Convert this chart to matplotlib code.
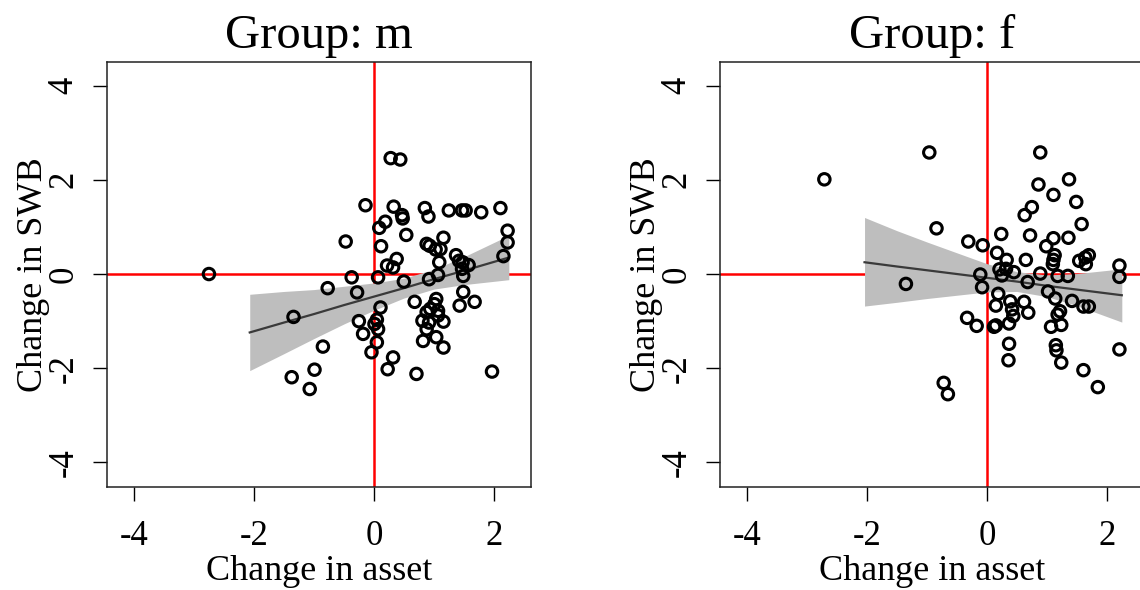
import matplotlib
matplotlib.use("Agg")
import matplotlib.pyplot as plt

plt.rcParams['font.family'] = ['Liberation Serif', 'DejaVu Serif']

# ---------------- data: Group m ----------------
m_x = [-2.75, 0.28, 0.44, -0.14, 0.33, 0.47, 0.48, 0.19, 0.09, 0.85, 0.91, 1.25, 1.47, 1.53,
       1.79, 2.11, 2.23, 2.23, 2.16, 0.54, -0.47, 0.12, 0.88, 0.93, 1.16, 1.03, 1.11, 0.38,
       0.22, 0.32, 1.09, 1.37, 1.42, 1.48, 1.58, 1.47, 1.49, 1.07, 0.92, -0.37, 0.07, 0.50,
       -0.77, -0.28, -1.34, 0.68, 1.49, 1.43, 1.68, 1.04, 1.01, 0.94, 1.07, 0.88, 0.81, 0.92,
       1.16, 1.07, 0.88, 0.82, 1.04, 1.16, 0.11, -0.25, 0.05, 0.01, 0.07, -0.18, 0.05, -0.04,
       -0.85, 0.32, 0.23, 0.71, -0.99, -1.37, -1.07, 1.97]
m_y = [0.00, 2.46, 2.43, 1.46, 1.43, 1.25, 1.18, 1.11, 0.98, 1.40, 1.22, 1.35, 1.35, 1.35,
       1.31, 1.40, 0.92, 0.67, 0.38, 0.83, 0.69, 0.59, 0.64, 0.60, 0.77, 0.52, 0.53, 0.32,
       0.18, 0.14, 0.25, 0.40, 0.28, 0.25, 0.19, 0.11, -0.04, -0.02, -0.11, -0.07, -0.07, -0.16,
       -0.30, -0.39, -0.91, -0.59, -0.38, -0.67, -0.59, -0.53, -0.64, -0.74, -0.78, -0.81, -0.99, -1.03,
       -1.01, -0.88, -1.17, -1.42, -1.34, -1.56, -0.71, -1.00, -0.97, -1.06, -1.17, -1.27, -1.45, -1.66,
       -1.54, -1.77, -2.02, -2.12, -2.03, -2.19, -2.44, -2.07]

m_fit_x = [-2.07, -1.5, -1.0, -0.5, 0.0, 0.5, 1.0, 1.5, 2.25]
m_fit_y = [-1.24, -1.03, -0.85, -0.66, -0.48, -0.30, -0.11, 0.07, 0.35]
m_ci_lo = [-2.05, -1.69, -1.37, -1.06, -0.77, -0.51, -0.32, -0.225, -0.12]
m_ci_hi = [-0.43, -0.37, -0.33, -0.26, -0.19, -0.09, 0.10, 0.365, 0.82]

# ---------------- data: Group f ----------------
f_x = [-2.71, -0.96, 0.89, -0.84, -1.35, 0.86, 1.37, 1.11, 1.49, 0.75, 0.63, 1.58, 0.24, 0.72,
       1.11, 1.36, 0.99, -0.31, -0.07, 0.17, 1.13, 1.11, 1.10, 0.33, 0.65, 1.70, 1.64, 1.54,
       1.65, 2.21, 2.21, -0.11, 0.21, 0.32, 0.45, 0.25, 0.89, 1.18, 1.35, 0.68, -0.08, 1.02,
       1.14, 0.19, 1.42, 1.61, 1.70, 0.15, 0.39, 0.62, 0.42, 0.69, 1.22, 1.18, 0.44, -0.33,
       -0.17, 0.15, 0.12, 0.37, 1.07, 1.24, 0.37, 1.15, 1.16, 2.21, 0.36, 1.24, 1.61, 1.85,
       -0.72, -0.65]
f_y = [2.01, 2.58, 2.58, 0.97, -0.21, 1.90, 2.01, 1.68, 1.53, 1.42, 1.25, 1.06, 0.85, 0.82,
       0.76, 0.77, 0.59, 0.69, 0.61, 0.45, 0.40, 0.30, 0.21, 0.30, 0.30, 0.40, 0.35, 0.28,
       0.21, 0.18, -0.06, -0.01, 0.10, 0.11, 0.04, -0.03, 0.01, -0.04, -0.04, -0.17, -0.28, -0.37,
       -0.52, -0.42, -0.57, -0.69, -0.69, -0.67, -0.58, -0.59, -0.75, -0.82, -0.79, -0.86, -0.89, -0.93,
       -1.10, -1.09, -1.12, -1.05, -1.12, -1.08, -1.48, -1.51, -1.62, -1.60, -1.83, -1.88, -2.04, -2.40,
       -2.31, -2.55]

f_fit_x = [-2.04, -1.5, -1.0, -0.5, 0.0, 0.5, 1.0, 1.5, 2.25]
f_fit_y = [0.25, 0.16, 0.08, 0.00, -0.08, -0.16, -0.25, -0.33, -0.45]
f_ci_lo = [-0.68, -0.60, -0.52, -0.45, -0.38, -0.37, -0.48, -0.67, -1.02]
f_ci_hi = [1.20, 0.92, 0.68, 0.45, 0.22, 0.05, -0.02, 0.01, 0.11]

titles = ["Group: m", "Group: f"]
xticks = [-4, -2, 0, 2]
yticks = [-4, -2, 0, 2, 4]
xlabel = "Change in asset"
ylabel = "Change in SWB"

W, H = 1140, 590
fig = plt.figure(figsize=(W / 100, H / 100), dpi=100)

panels = [
    (107, m_x, m_y, m_fit_x, m_fit_y, m_ci_lo, m_ci_hi, titles[0]),
    (720, f_x, f_y, f_fit_x, f_fit_y, f_ci_lo, f_ci_hi, titles[1]),
]

top_px, bot_px, wid_px = 62, 487, 424
for left_px, xs, ys, fx, fy, lo, hi, title in panels:
    ax = fig.add_axes([left_px / W, 1 - bot_px / H, wid_px / W, (bot_px - top_px) / H])
    ax.set_xlim(-4.45, 2.62)
    ax.set_ylim(-4.52, 4.5)
    ax.axhline(0, color='#ff0000', lw=1.8, zorder=1)
    ax.axvline(0, color='#ff0000', lw=1.8, zorder=1)
    ax.fill_between(fx, lo, hi, color='#bebebe', lw=0, zorder=2)
    ax.plot(fx, fy, color='#3a3a3a', lw=1.6, zorder=3)
    ax.scatter(xs, ys, s=68, facecolors='none', edgecolors='black', linewidths=2.2, zorder=4)
    ax.set_xticks(xticks)
    ax.set_yticks(yticks)
    ax.set_xticklabels([str(t) for t in xticks])
    ax.set_yticklabels([str(t) for t in yticks], rotation=90, va='center')
    ax.tick_params(axis='both', direction='out', length=10, width=1.0, labelsize=25, colors='black')
    ax.tick_params(axis='x', pad=14)
    ax.tick_params(axis='y', pad=9)
    for sp in ax.spines.values():
        sp.set_linewidth(1.1)
        sp.set_color('#222222')
    ax.set_xlabel(xlabel, fontsize=26, labelpad=1)
    ax.set_ylabel(ylabel, fontsize=26, labelpad=-2)
    ax.set_title(title, fontsize=35, pad=10)

fig.savefig("out.png", dpi=100)
